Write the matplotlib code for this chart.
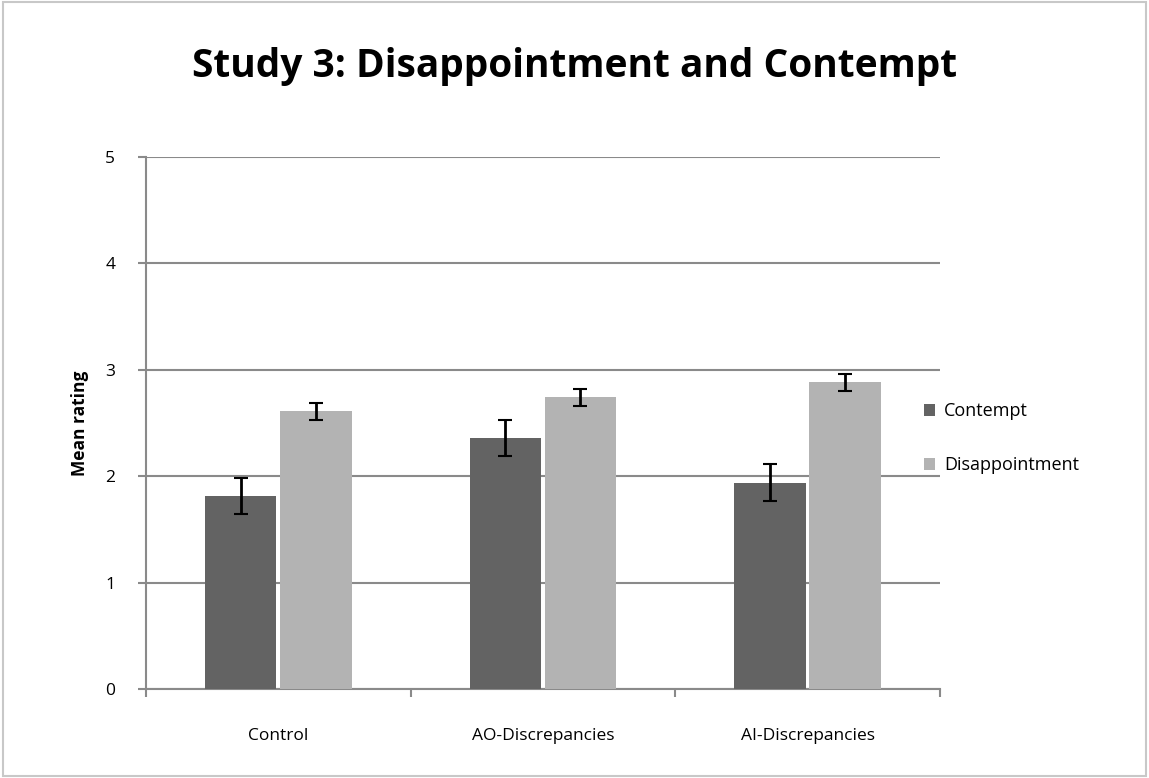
import matplotlib.pyplot as plt
import numpy as np
from matplotlib.patches import Rectangle

categories = ["Control", "AO-Discrepancies", "AI-Discrepancies"]
contempt = [1.81, 2.36, 1.94]
contempt_err = [0.17, 0.17, 0.17]
disappointment = [2.61, 2.74, 2.88]
disappointment_err = [0.08, 0.08, 0.08]

plt.rcParams['font.family'] = ['Open Sans', 'DejaVu Sans']

fig = plt.figure(figsize=(11.49, 7.78), dpi=100)
ax = fig.add_axes([0.127, 0.1144, 0.691, 0.684])

x = np.arange(len(categories))
w = 0.27
ax.bar(x - w / 2 - 0.007, contempt, w, color='#636363', label='Contempt', zorder=3)
ax.bar(x + w / 2 + 0.007, disappointment, w, color='#b3b3b3', label='Disappointment', zorder=3)
ax.errorbar(x - w / 2 - 0.007, contempt, yerr=contempt_err, fmt='none', ecolor='black',
            elinewidth=2, capsize=5, capthick=1.5, zorder=4)
ax.errorbar(x + w / 2 + 0.007, disappointment, yerr=disappointment_err, fmt='none', ecolor='black',
            elinewidth=2, capsize=5, capthick=1.5, zorder=4)

ax.set_xlim(-0.5, 2.5)
ax.set_ylim(0, 5)
ax.set_yticks(range(6))
ax.yaxis.grid(True, color='#8a8a8a', linewidth=1.5, zorder=0)
ax.set_axisbelow(True)

ax.set_xticks(x)
ax.set_xticklabels(categories, fontsize=12.5)
ax.set_xticks([-0.5, 0.5, 1.5, 2.5], minor=True)
ax.tick_params(axis='x', which='major', length=0, pad=28)
ax.tick_params(axis='x', which='minor', length=6, color='#8a8a8a', width=1.5)
ax.tick_params(axis='y', length=6, color='#8a8a8a', width=1.5, labelsize=12.5, pad=16)

for side in ['top', 'right']:
    ax.spines[side].set_visible(False)
for side in ['left', 'bottom']:
    ax.spines[side].set_color('#8a8a8a')
    ax.spines[side].set_linewidth(1.5)

ax.set_ylabel('Mean rating', fontsize=12.5, fontweight='bold', labelpad=12)

fig.suptitle('Study 3: Disappointment and Contempt', fontsize=28, fontweight='bold',
             y=0.94)

ax.legend(loc='center left', bbox_to_anchor=(0.96, 0.471), frameon=False, fontsize=13,
          handlelength=0.6, handleheight=0.6, handletextpad=0.5, labelspacing=2.0)

fig.patches.append(Rectangle((0.003, 0.003), 0.994, 0.994, transform=fig.transFigure,
                             fill=False, edgecolor='#c8c8c8', linewidth=1.5))

fig.savefig('out.png', dpi=100)
